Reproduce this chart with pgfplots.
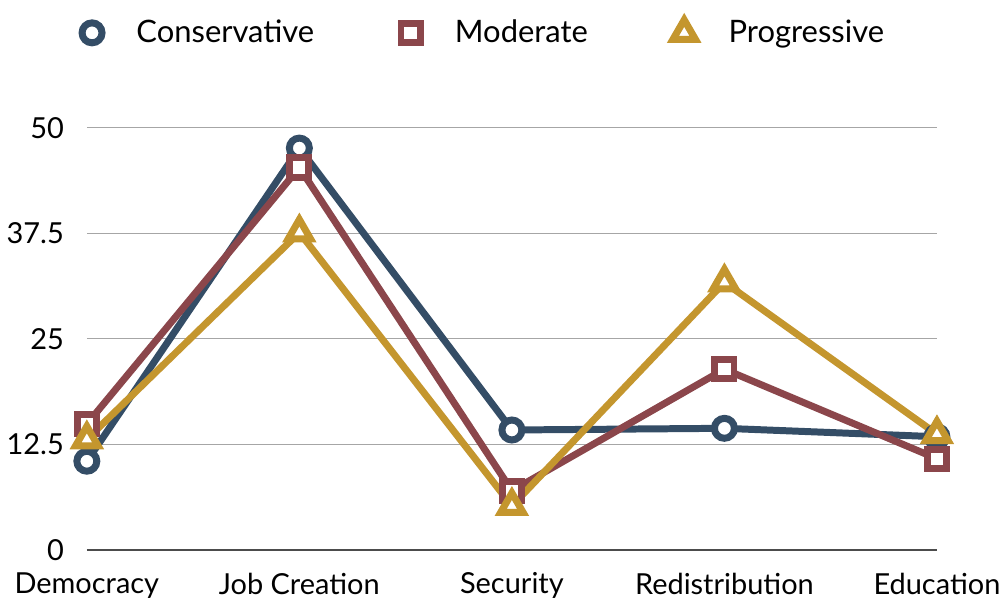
\documentclass[border=0pt]{standalone}
\usepackage{fontspec}
\setmainfont{Lato}
\usepackage{pgfplots}
\pgfplotsset{compat=1.18}
\definecolor{cons}{HTML}{344D66}
\definecolor{mode}{HTML}{8B464B}
\definecolor{prog}{HTML}{C4962E}
\begin{document}
\begin{tikzpicture}
\begin{axis}[
  scale only axis, width=426pt, height=211.5pt,
  xmin=0, xmax=4, ymin=0, ymax=50,
  xtick={0,1,2,3,4},
  xticklabels={Democracy, Job Creation, Security, Redistribution, Education},
  ytick={0,12.5,25,37.5,50},
  yticklabels={0,12.5,25,37.5,50},
  ymajorgrids, grid style={gray!70, line width=0.6pt},
  axis line style={draw=none},
  extra y ticks={0}, extra y tick labels={},
  extra y tick style={grid style={black!70, line width=0.8pt}},
  major tick length=0pt,
  tick label style={font=\fontsize{14.5}{16}\selectfont},
  yticklabel style={xshift=-8pt},
  xticklabel style={yshift=-8pt},
  clip=false,
  legend style={at={(0.467,1.225)}, anchor=center, draw=none,
    inner ysep=8pt,
    font=\fontsize{15.5}{18}\selectfont, legend columns=3,
    /tikz/every odd column/.append style={column sep=14pt},
    /tikz/every even column/.append style={column sep=40pt}},
  legend image code/.code={
    \draw[#1, line width=2.5pt] (1pt,0pt) -- (11pt,0pt);
    \draw[#1, mark repeat=1] plot coordinates {(6pt,0pt)};},
  every axis plot/.append style={line width=3.5pt, mark size=5pt,
    mark options={fill=white, line width=2.5pt}},
]
\addplot[cons, mark=*, mark options={fill=white}] coordinates {
 (0,10.5) (1,47.6) (2,14.2) (3,14.4) (4,13.4)};
\addlegendentry{Conservative}
\addplot[mode, mark=square*, mark size=4.8pt, mark options={fill=white}] coordinates {
 (0,14.9) (1,45.3) (2,7.0) (3,21.4) (4,10.8)};
\addlegendentry{Moderate}
\addplot[prog, mark=triangle*, mark size=6.5pt, mark options={fill=white}] coordinates {
 (0,13.1) (1,37.6) (2,5.2) (3,31.7) (4,13.7)};
\addlegendentry{Progressive}
\end{axis}
\end{tikzpicture}
\end{document}
